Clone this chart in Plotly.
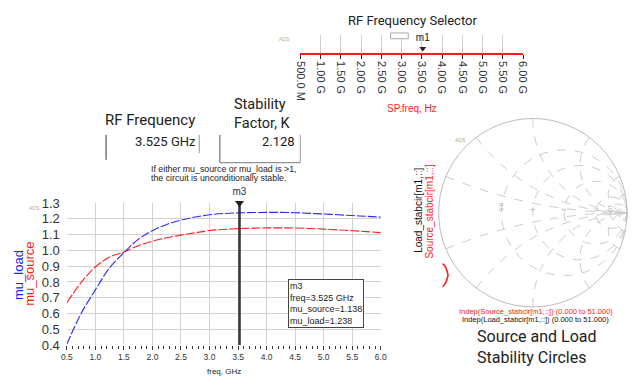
import plotly.graph_objects as go

W, H = 634, 387

# ---------------- data ----------------
freq_ghz = [0.5, 0.75, 1.0, 1.25, 1.5, 1.75, 2.0, 2.25, 2.5, 2.75, 3.0, 3.25,
            3.5, 3.75, 4.0, 4.25, 4.5, 4.75, 5.0, 5.25, 5.5, 5.75, 6.0]
mu_source = [0.668, 0.796, 0.895, 0.958, 0.990, 1.030, 1.058, 1.080, 1.097, 1.112,
             1.126, 1.133, 1.138, 1.141, 1.143, 1.143, 1.142, 1.139, 1.135, 1.130,
             1.125, 1.119, 1.113]
mu_load = [0.405, 0.600, 0.750, 0.890, 0.985, 1.070, 1.125, 1.165, 1.192, 1.212,
           1.226, 1.234, 1.238, 1.240, 1.241, 1.241, 1.239, 1.235, 1.231, 1.226,
           1.221, 1.216, 1.211]

m3_freq = 3.525
m3_mu_source = 1.138
m3_mu_load = 1.238
stability_k = 2.128

sel_tickvals = [0.5, 1.0, 1.5, 2.0, 2.5, 3.0, 3.5, 4.0, 4.5, 5.0, 5.5, 6.0]
sel_ticktext = ["500.0 M", "1.00 G", "1.50 G", "2.00 G", "2.50 G", "3.00 G",
                "3.50 G", "4.00 G", "4.50 G", "5.00 G", "5.50 G", "6.00 G"]

# visible part of the source stability circle (reflection-coefficient plane)
src_circ_re = [-1.021, -0.990, -0.975, -0.963, -0.975, -0.990, -1.021]
src_circ_im = [-0.564, -0.600, -0.640, -0.691, -0.740, -0.780, -0.819]

smith_r_ticks = [0.5, 1, 2, 5, 10]
smith_x_ticks = [-10, -5, -2, -1, -0.5, -0.2, 0.2, 0.5, 1, 2, 5, 10]


def px(x):
    return x / W


def py(y):
    return 1 - y / H


ARIAL = "Arial, Liberation Sans, sans-serif"
ROBOTO = "Roboto, Arial, sans-serif"

fig = go.Figure()

# ---------------- main mu plot ----------------
fig.add_trace(go.Scatter(x=freq_ghz, y=mu_source, mode="lines",
                         line=dict(color="#ff2020", width=1.1, dash="9px,2px", shape="spline"),
                         xaxis="x", yaxis="y", showlegend=False))
fig.add_trace(go.Scatter(x=freq_ghz, y=mu_load, mode="lines",
                         line=dict(color="#2a2aff", width=1.1, dash="9px,2px", shape="spline"),
                         xaxis="x", yaxis="y", showlegend=False))
fig.add_trace(go.Scatter(x=[m3_freq, m3_freq], y=[0.39, 1.3], mode="lines", line=dict(color="#3a3a3a", width=2.6),
                         xaxis="x", yaxis="y", showlegend=False, cliponaxis=False))
fig.add_trace(go.Scatter(x=[m3_freq], y=[1.3], mode="markers+text", text=["m3"], textposition="top center",
                         textfont=dict(family=ARIAL, size=10, color="#333"),
                         marker=dict(symbol="triangle-down", size=8, color="#222"),
                         xaxis="x", yaxis="y", showlegend=False, cliponaxis=False))

# ---------------- frequency selector ----------------
fig.add_trace(go.Scatter(x=[m3_freq], y=[0.25], mode="markers+text", text=["m1"], textposition="top center",
                         textfont=dict(family=ARIAL, size=10, color="#222"),
                         marker=dict(symbol="triangle-down", size=6, color="#222"),
                         xaxis="x2", yaxis="y2", showlegend=False, cliponaxis=False))

# ---------------- smith chart ----------------
fig.add_trace(go.Scattersmith(real=[], imag=[], subplot="smith", mode="lines",
                              line=dict(color="black"), showlegend=False))
fig.add_trace(go.Scatter(x=src_circ_re, y=src_circ_im, mode="lines", line=dict(color="#ff2020", width=1.6, shape="spline"),
                         xaxis="x3", yaxis="y3", showlegend=False))

grid = "#d2d2d2"
fig.update_layout(
    width=W, height=H, margin=dict(l=0, r=0, t=0, b=0),
    paper_bgcolor="white", plot_bgcolor="white",
    font=dict(family=ARIAL, color="#333"),
    xaxis=dict(domain=[px(62), px(382)], range=[0.5, 6.0], dtick=0.5, tickformat=".1f",
               showgrid=True, gridcolor=grid, gridwidth=1, zeroline=False, showline=False,
               ticks="outside", ticklen=4, tickcolor="#333", tickfont=dict(size=8.5, color="#333"),
               minor=dict(dtick=0.1, ticks="outside", ticklen=3, tickcolor="#333", showgrid=False),
               anchor="y"),
    yaxis=dict(domain=[py(351.7), py(204)], range=[0.4, 1.3], dtick=0.1, tickformat=".1f",
               showgrid=True, gridcolor=grid, gridwidth=1, zeroline=False, showline=False,
               ticks="", tickfont=dict(size=13, color="#333"), ticklabelstandoff=6, anchor="x"),
    xaxis2=dict(domain=[px(300), px(527)], range=[0.5, 6.0], tickvals=sel_tickvals, ticktext=sel_ticktext,
                tickangle=90, tickfont=dict(size=11, color="#333"), showgrid=True, gridcolor="#cfcfcf",
                showline=True, linecolor="#ff1a1a", linewidth=1.5, ticks="outside", ticklen=4, tickcolor="#222",
                zeroline=False, anchor="y2"),
    yaxis2=dict(domain=[py(48), py(29)], range=[0, 1], visible=False, anchor="x2"),
    xaxis3=dict(domain=[px(444), 1.0], range=[(444 - 541) / 94, (634 - 541) / 94], visible=False, anchor="y3"),
    yaxis3=dict(domain=[py(308), py(120)], range=[-1, 1], visible=False, anchor="x3"),
    smith=dict(
        domain=dict(x=[px(440), 1.0], y=[py(312), py(116)]),
        bgcolor="rgba(0,0,0,0)",
        realaxis=dict(tickvals=smith_r_ticks, gridcolor="#cccccc", griddash="dash", gridwidth=0.8,
                      showline=False, tickfont=dict(size=6, color="#aaaaaa"), ticks="", tickangle=90),
        imaginaryaxis=dict(tickvals=smith_x_ticks, gridcolor="#cccccc", griddash="dash", gridwidth=0.8,
                           linecolor="#bdbdbd", linewidth=1, showticklabels=False, ticks=""),
    ),
)

ann = []


def A(text, x, y, size, color="#222", family=ARIAL, xanchor="center", yanchor="middle", angle=0, **kw):
    ann.append(dict(text=text, x=px(x), y=py(y), xref="paper", yref="paper", showarrow=False,
                    font=dict(size=size, color=color, family=family), xanchor=xanchor, yanchor=yanchor,
                    textangle=angle, **kw))


A("RF Frequency Selector", 414, 14, 13, family=ROBOTO)
A("ADS", 284, 33, 5, color="#aaa")
A("SP.freq, Hz", 414, 106, 10, color="#ff1a1a")

A("RF Frequency", 99, 118, 15, family=ROBOTO, xanchor="left")
A("Stability<br>Factor, K", 230, 111, 14.5, family=ROBOTO, xanchor="left", align="left")
A(f"{m3_freq:.3f} GHz", 196, 140, 13, family=ROBOTO, xanchor="right")
A(f"{stability_k:.3f}", 297, 140, 13, family=ROBOTO, xanchor="right")
A("If either mu_source or mu_load is >1,", 146, 169, 8.8, xanchor="left")
A("the circuit is unconditionally stable.", 146, 178, 8.8, xanchor="left")

A("ADS", 29, 209, 5, color="#aaa")
A("mu_load", 12, 279, 13, color="#2020ff", angle=-90)
A("mu_source", 24, 278, 13, color="#ff1a1a", angle=-90)
A("freq, GHz", 222, 379, 8)
A(f"m3<br>freq={m3_freq:.3f} GHz<br>mu_source={m3_mu_source:.3f}<br>mu_load={m3_mu_load:.3f}",
  287, 283, 9, xanchor="left", yanchor="top", align="left", bordercolor="#444", borderwidth=1,
  bgcolor="white", borderpad=1)

A("ADS", 463, 138, 5, color="#aaa")
A("Load_stabcir[m1,::]", 421, 212, 10, color="#111", angle=-90)
A("Source_stabcir[m1,::]", 432, 212, 10, color="#ff1a1a", angle=-90)
A("Indep(Source_stabcir[m1,::]) (0.000 to 51.000)", 540, 317, 7.5, color="#ff1a1a")
A("Indep(Load_stabcir[m1,::]) (0.000 to 51.000)", 540, 325, 7.5, color="#111")
A("Source and Load<br>Stability Circles", 478, 354, 16, family=ROBOTO, xanchor="left", align="left")

fig.update_layout(annotations=ann)

shapes = []


def L(x0, y0, x1, y1, color="#444", width=1):
    shapes.append(dict(type="line", xref="paper", yref="paper", x0=px(x0), y0=py(y0), x1=px(x1), y1=py(y1),
                       line=dict(color=color, width=width)))


L(102, 133, 102, 159, "#333")
L(197, 133, 197, 152, "#999")
L(218, 133, 218, 162, "#555")
L(218, 162, 300, 162, "#777")
L(300, 133, 300, 162, "#999")
shapes.append(dict(type="rect", xref="paper", yref="paper", x0=px(392), y0=py(33), x1=px(410), y1=py(27),
                   line=dict(color="#aaa", width=1), fillcolor="white"))
fig.update_layout(shapes=shapes)

fig.write_html("out.html")
